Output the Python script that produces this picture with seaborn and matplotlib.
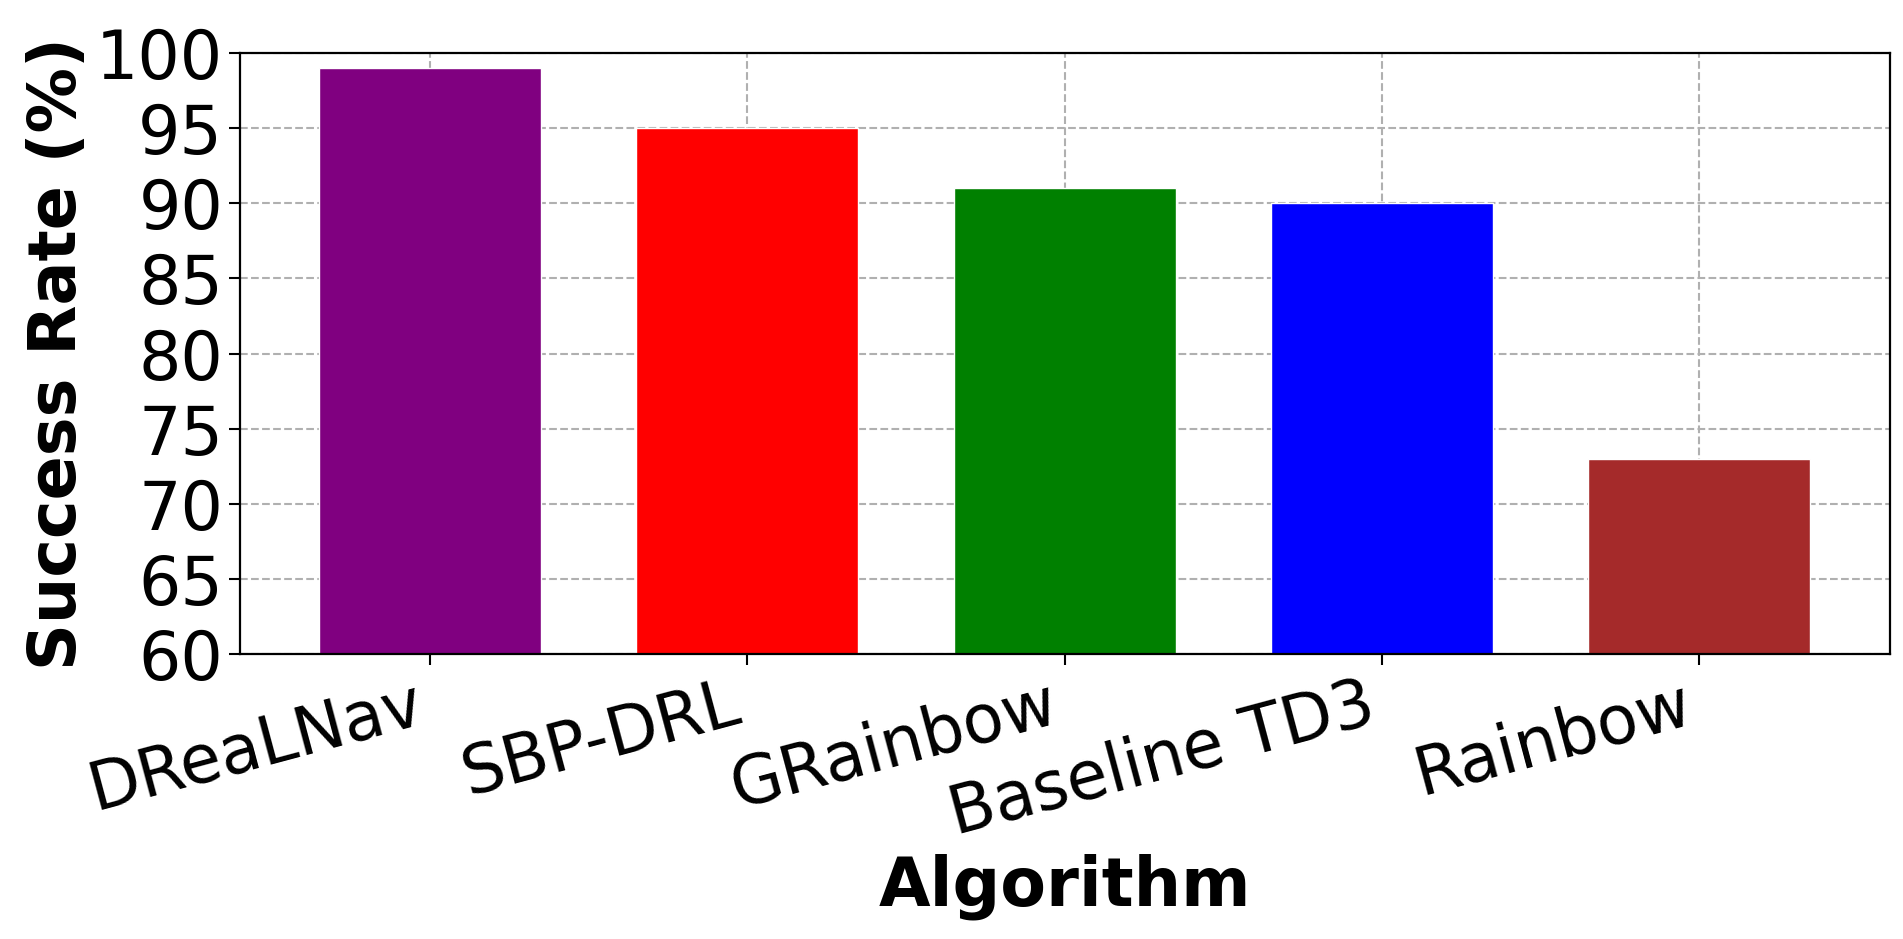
import seaborn as sns
import pandas as pd
import matplotlib.pyplot as plt

algorithms = ['DReaLNav', 'SBP-DRL', 'GRainbow', 'Baseline TD3', 'Rainbow']
success_rate = [99, 95, 91, 90, 73]
bar_colors = ['purple', 'red', 'green', 'blue', 'brown']

df = pd.DataFrame({'Algorithm': algorithms, 'Success Rate': success_rate})

sns.set_style('ticks')
plt.rcParams['font.family'] = ['DejaVu Sans']
plt.rcParams['text.color'] = 'black'
plt.rcParams['axes.labelcolor'] = 'black'
plt.rcParams['xtick.color'] = 'black'
plt.rcParams['ytick.color'] = 'black'

fig, ax = plt.subplots(figsize=(19.03, 9.39), dpi=100)
fig.subplots_adjust(left=0.126, right=0.993, top=0.944, bottom=0.303)

sns.barplot(x='Algorithm', y='Success Rate', data=df, hue='Algorithm',
            palette=bar_colors, width=0.7, saturation=1, legend=False, ax=ax)

ax.set_xlim(-0.6, 4.6)
ax.set_ylim(60, 100)
ax.set_yticks(range(60, 101, 5))
ax.set_axisbelow(True)
ax.grid(True, linestyle='--', color='#b0b0b0', linewidth=1.5)
for s in ax.spines.values():
    s.set_color('black')
    s.set_linewidth(1.6)
ax.tick_params(axis='both', labelsize=48, length=8, width=1.5, pad=4)
plt.setp(ax.get_xticklabels(), rotation=15, ha='right')
ax.set_xlabel('Algorithm', fontsize=48, fontweight='bold')
ax.set_ylabel('Success Rate (%)', fontsize=47, fontweight='bold')

plt.savefig('out.png', dpi=100)
